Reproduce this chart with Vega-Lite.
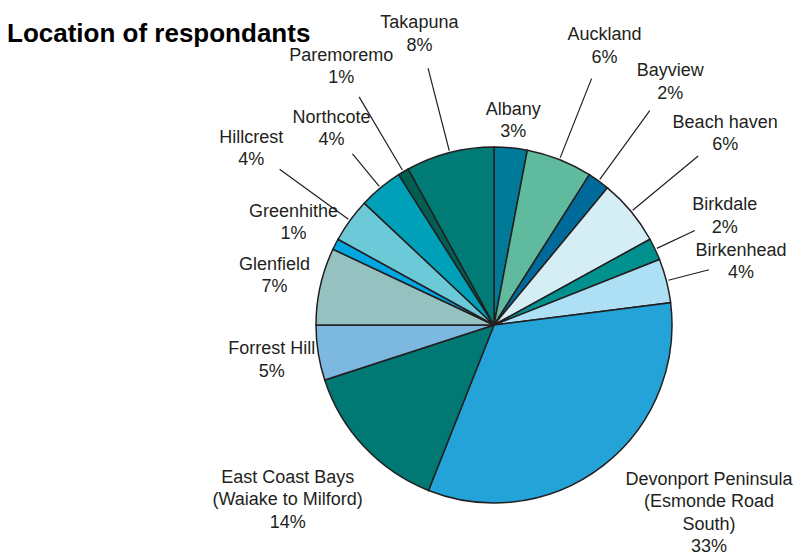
{
  "$schema": "https://vega.github.io/schema/vega-lite/v6.json",
  "width": 600,
  "height": 460,
  "autosize": {"type": "none"},
  "padding": {"left": 194, "top": 95, "right": 0, "bottom": 0},
  "background": "white",
  "title": {
    "text": "Location of respondants",
    "anchor": "start",
    "frame": "group",
    "font": "Liberation Sans",
    "fontSize": 26,
    "fontWeight": "bold",
    "color": "#000000",
    "dx": -187,
    "dy": 45
  },
  "data": {
    "values": [
      {"location": "Albany", "value": 3, "label": "Albany\n3%"},
      {"location": "Auckland", "value": 6, "label": "Auckland\n6%"},
      {"location": "Bayview", "value": 2, "label": "Bayview\n2%"},
      {"location": "Beach haven", "value": 6, "label": "Beach haven\n6%"},
      {"location": "Birkdale", "value": 2, "label": "Birkdale\n2%"},
      {"location": "Birkenhead", "value": 4, "label": "Birkenhead\n4%"},
      {"location": "Devonport Peninsula (Esmonde Road South)", "value": 33, "label": "Devonport Peninsula\n(Esmonde Road\nSouth)\n33%"},
      {"location": "East Coast Bays (Waiake to Milford)", "value": 14, "label": "East Coast Bays\n(Waiake to Milford)\n14%"},
      {"location": "Forrest Hill", "value": 5, "label": "Forrest Hill\n5%"},
      {"location": "Glenfield", "value": 7, "label": "Glenfield\n7%"},
      {"location": "Greenhithe", "value": 1, "label": "Greenhithe\n1%"},
      {"location": "Hillcrest", "value": 4, "label": "Hillcrest\n4%"},
      {"location": "Northcote", "value": 4, "label": "Northcote\n4%"},
      {"location": "Paremoremo", "value": 1, "label": "Paremoremo\n1%"},
      {"location": "Takapuna", "value": 8, "label": "Takapuna\n8%"}
    ]
  },
  "transform": [
    {
      "window": [
        {"op": "row_number", "as": "idx"},
        {"op": "sum", "field": "value", "as": "cum"}
      ],
      "frame": [null, 0]
    }
  ],
  "encoding": {
    "theta": {"field": "value", "type": "quantitative", "stack": true},
    "order": {"field": "idx", "type": "quantitative"}
  },
  "layer": [
    {
      "mark": {"type": "arc", "outerRadius": 178, "stroke": "#231f20", "strokeWidth": 1.5},
      "encoding": {
        "color": {
          "field": "location",
          "type": "nominal",
          "legend": null,
          "scale": {
            "domain": ["Albany", "Auckland", "Bayview", "Beach haven", "Birkdale", "Birkenhead", "Devonport Peninsula (Esmonde Road South)", "East Coast Bays (Waiake to Milford)", "Forrest Hill", "Glenfield", "Greenhithe", "Hillcrest", "Northcote", "Paremoremo", "Takapuna"],
            "range": ["#007a99", "#5fba9e", "#006a9a", "#d5edf4", "#00918f", "#aee0f5", "#23a3d7", "#007873", "#7cb8e0", "#95c1c0", "#00a6e0", "#6ccad8", "#00a0b8", "#005f52", "#007b76"]
          }
        }
      }
    },
    {
      "mark": {"type": "arc", "innerRadius": 180, "outerRadius": 265, "padAngle": 3.1, "stroke": "#231f20", "strokeWidth": 1.2, "fillOpacity": 0},
      "encoding": {
        "detail": {"field": "location", "type": "nominal"},
        "strokeOpacity": {
          "condition": {"test": "datum.value < 10 && ((datum.cum - datum.value / 2 >= 3 && datum.cum - datum.value / 2 < 16) || (datum.cum - datum.value / 2 >= 84 && datum.cum - datum.value / 2 < 87) || datum.cum - datum.value / 2 >= 90)", "value": 1},
          "value": 0
        }
      }
    },
    {
      "mark": {"type": "arc", "innerRadius": 180, "outerRadius": 222, "padAngle": 3.1, "stroke": "#231f20", "strokeWidth": 1.2, "fillOpacity": 0},
      "encoding": {
        "detail": {"field": "location", "type": "nominal"},
        "strokeOpacity": {
          "condition": {"test": "datum.value < 10 && ((datum.cum - datum.value / 2 >= 16 && datum.cum - datum.value / 2 < 30) || (datum.cum - datum.value / 2 >= 87 && datum.cum - datum.value / 2 < 90))", "value": 1},
          "value": 0
        }
      }
    },
    {
      "mark": {"type": "text", "radius": 205, "dy": -11, "font": "Liberation Sans", "fontSize": 18, "lineHeight": 22.5, "lineBreak": "\n", "align": "center", "baseline": "middle", "fill": "#231f20"},
      "encoding": {
        "detail": {"field": "location", "type": "nominal"},
        "text": {
          "condition": {"test": "datum.value < 10 && datum.cum - datum.value / 2 < 3", "field": "label", "type": "nominal"},
          "value": ""
        }
      }
    },
    {
      "mark": {"type": "text", "radius": 225, "dy": -11, "font": "Liberation Sans", "fontSize": 18, "lineHeight": 22.5, "lineBreak": "\n", "align": "center", "baseline": "middle", "fill": "#231f20"},
      "encoding": {
        "detail": {"field": "location", "type": "nominal"},
        "text": {
          "condition": {"test": "datum.value < 10 && datum.cum - datum.value / 2 >= 65 && datum.cum - datum.value / 2 < 84", "field": "label", "type": "nominal"},
          "value": ""
        }
      }
    },
    {
      "mark": {"type": "text", "radius": 255, "dy": -11, "font": "Liberation Sans", "fontSize": 18, "lineHeight": 22.5, "lineBreak": "\n", "align": "center", "baseline": "middle", "fill": "#231f20"},
      "encoding": {
        "detail": {"field": "location", "type": "nominal"},
        "text": {
          "condition": {"test": "datum.value < 10 && ((datum.cum - datum.value / 2 >= 16 && datum.cum - datum.value / 2 < 30) || (datum.cum - datum.value / 2 >= 87 && datum.cum - datum.value / 2 < 90))", "field": "label", "type": "nominal"},
          "value": ""
        }
      }
    },
    {
      "mark": {"type": "text", "radius": 300, "dy": -11, "font": "Liberation Sans", "fontSize": 18, "lineHeight": 22.5, "lineBreak": "\n", "align": "center", "baseline": "middle", "fill": "#231f20"},
      "encoding": {
        "detail": {"field": "location", "type": "nominal"},
        "text": {
          "condition": {"test": "datum.value < 10 && ((datum.cum - datum.value / 2 >= 3 && datum.cum - datum.value / 2 < 16) || (datum.cum - datum.value / 2 >= 84 && datum.cum - datum.value / 2 < 87) || datum.cum - datum.value / 2 >= 90)", "field": "label", "type": "nominal"},
          "value": ""
        }
      }
    },
    {
      "mark": {"type": "text", "radius": 235, "dx": 71, "dy": -31, "font": "Liberation Sans", "fontSize": 18, "lineHeight": 22.5, "lineBreak": "\n", "align": "center", "baseline": "middle", "fill": "#231f20"},
      "encoding": {
        "detail": {"field": "location", "type": "nominal"},
        "text": {
          "condition": {"test": "datum.value >= 10 && datum.cum - datum.value / 2 < 50", "field": "label", "type": "nominal"},
          "value": ""
        }
      }
    },
    {
      "mark": {"type": "text", "radius": 235, "dx": -35, "dy": -8, "font": "Liberation Sans", "fontSize": 18, "lineHeight": 22.5, "lineBreak": "\n", "align": "center", "baseline": "middle", "fill": "#231f20"},
      "encoding": {
        "detail": {"field": "location", "type": "nominal"},
        "text": {
          "condition": {"test": "datum.value >= 10 && datum.cum - datum.value / 2 >= 50", "field": "label", "type": "nominal"},
          "value": ""
        }
      }
    }
  ],
  "config": {"view": {"stroke": null}}
}
